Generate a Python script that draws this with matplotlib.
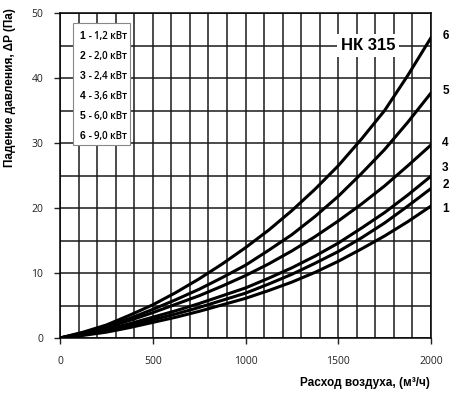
import matplotlib
matplotlib.use("Agg")
import matplotlib.pyplot as plt
from matplotlib.patches import Rectangle

flow = [0, 125, 250, 375, 500, 625, 750, 875, 1000,
        1125, 1250, 1375, 1500, 1625, 1750, 1875, 2000]
curve_1 = [0, 0.4, 0.9, 1.6, 2.4, 3.2, 4.1, 5.1, 6.1,
           7.3, 8.6, 10.1, 11.8, 13.7, 15.7, 17.9, 20.3]
curve_2 = [0, 0.5, 1.1, 1.9, 2.8, 3.7, 4.7, 5.8, 6.9,
           8.3, 9.8, 11.5, 13.3, 15.4, 17.7, 20.3, 23.0]
curve_3 = [0, 0.6, 1.3, 2.2, 3.2, 4.2, 5.3, 6.5, 7.7,
           9.2, 10.8, 12.6, 14.6, 16.9, 19.3, 22.0, 24.9]
curve_4 = [0, 0.7, 1.6, 2.7, 3.9, 5.2, 6.5, 8.0, 9.6,
           11.4, 13.4, 15.6, 18.0, 20.6, 23.4, 26.5, 29.7]
curve_5 = [0, 0.8, 1.8, 3.0, 4.4, 5.9, 7.5, 9.3, 11.2,
           13.5, 15.9, 18.7, 21.8, 25.3, 29.0, 33.2, 37.7]
curve_6 = [0, 0.9, 2.0, 3.5, 5.1, 7.0, 9.1, 11.4, 13.9,
           16.6, 19.6, 22.9, 26.5, 30.6, 35.0, 40.4, 46.2]
curves = [curve_1, curve_2, curve_3, curve_4, curve_5, curve_6]
curve_ids = ["1", "2", "3", "4", "5", "6"]
powers = ["1,2 кВт", "2,0 кВт", "2,4 кВт", "3,6 кВт", "6,0 кВт", "9,0 кВт"]

fig = plt.figure(figsize=(4.5, 3.98), dpi=100)
ax = fig.add_axes([60 / 450, 60 / 398, 371 / 450, 325 / 398])

for x in range(0, 2001, 100):
    ax.axvline(x, color="#1a1a1a", lw=1.1, zorder=1)
for y in range(0, 51, 5):
    ax.axhline(y, color="#1a1a1a", lw=1.1, zorder=1)

for c in curves:
    ax.plot(flow, c, color="black", lw=2.2, zorder=3,
            solid_capstyle="round", solid_joinstyle="round")

ax.set_xlim(0, 2000)
ax.set_ylim(0, 50)
ax.set_xticks([0, 500, 1000, 1500, 2000])
ax.set_yticks([0, 10, 20, 30, 40, 50])
ax.tick_params(length=4, width=1, labelsize=7.5, colors="#222")
ax.tick_params(axis="x", pad=9)
ax.tick_params(axis="y", pad=8)
for lab in ax.get_xticklabels() + ax.get_yticklabels():
    lab.set_family("Open Sans")
for s in ax.spines.values():
    s.set_linewidth(1.1)

# legend box
ax.add_patch(Rectangle((0.035, 0.594), 0.154, 0.375, transform=ax.transAxes,
                       facecolor="white", edgecolor="#888", lw=0.8, zorder=4))
for i, (cid, pw) in enumerate(zip(curve_ids, powers)):
    yy = 0.929 - i * 0.0615
    ax.text(0.053, yy, cid + " -", transform=ax.transAxes, fontsize=7.5,
            fontweight="bold", family="Liberation Sans", va="center", zorder=5)
    ax.text(0.092, yy, pw, transform=ax.transAxes, fontsize=7,
            family="Open Sans", fontweight="semibold", va="center", zorder=5)

ax.text(1660, 45, "НК 315", fontsize=12, fontweight="bold", family="Liberation Sans",
        ha="center", va="center", zorder=5,
        bbox=dict(facecolor="white", edgecolor="none", pad=3))

for cid, c in zip(curve_ids, curves):
    off = {"1": -0.5, "2": 0.5, "3": 1.3}.get(cid, 0.3)
    ax.text(2060, c[-1] + off, cid, fontsize=8.5, fontweight="bold",
            family="Liberation Sans", va="center", ha="left", clip_on=False)

fig.text(430 / 450, 1 - 383 / 398, "Расход воздуха, (м³/ч)", fontsize=8.5,
         fontweight="bold", family="Liberation Sans", ha="right", va="center")
fig.text(10 / 450, 1 - 88 / 398, "Падение давления, ΔP (Па)", fontsize=8.5,
         fontweight="bold", family="Liberation Sans", ha="center", va="center",
         rotation=90)

fig.savefig("out.png", dpi=100)
